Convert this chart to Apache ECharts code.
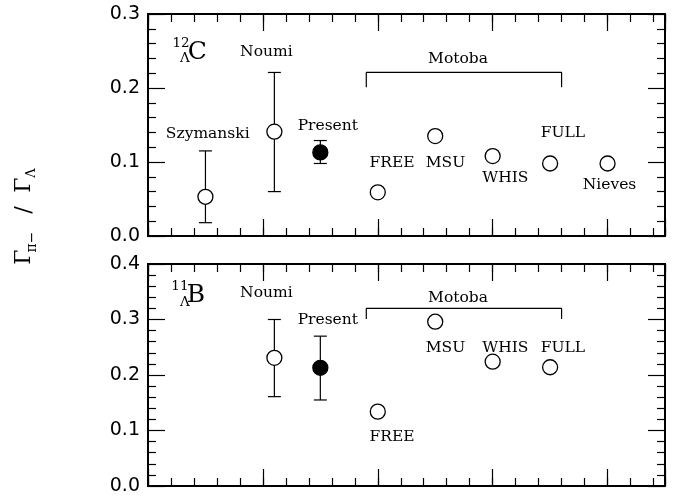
<!DOCTYPE html>
<html>
<head>
<meta charset="utf-8">
<script src="https://cdn.jsdelivr.net/npm/echarts@6/dist/echarts.min.js"></script>
<style>
  html, body { margin: 0; padding: 0; background: #fff; }
  #main { width: 674px; height: 497px; }
</style>
</head>
<body>
<div id="main"></div>
<script>
var myChart = echarts.init(document.getElementById('main'));

// 12C panel: [x, value]
var cOpen = [[0.5, 0.053], [1.1, 0.141], [2.0, 0.059], [2.5, 0.135], [3.0, 0.108], [3.5, 0.098], [4.0, 0.098]];
var cFilled = [[1.5, 0.113]];
// [x, low, high]
var cErr = [[0.5, 0.018, 0.115], [1.1, 0.060, 0.221], [1.5, 0.098, 0.129]];
var cBracket = [[1.9, 0.201], [1.9, 0.221], [3.6, 0.221], [3.6, 0.201]];

// 11B panel
var bOpen = [[1.1, 0.231], [2.0, 0.134], [2.5, 0.296], [3.0, 0.224], [3.5, 0.214]];
var bFilled = [[1.5, 0.213]];
var bErr = [[1.1, 0.161, 0.300], [1.5, 0.155, 0.270]];
var bBracket = [[1.9, 0.301], [1.9, 0.320], [3.6, 0.320], [3.6, 0.301]];

// annotations: [text, x, value]
var cNotes = [
  ['Szymanski', 0.52, 0.138], ['Noumi', 1.03, 0.249], ['Present', 1.565, 0.1486],
  ['FREE', 2.124, 0.0986], ['MSU', 2.589, 0.0986], ['WHIS', 3.11, 0.0788],
  ['FULL', 3.611, 0.1388], ['Nieves', 4.017, 0.0689], ['Motoba', 2.698, 0.2388]
];
var bNotes = [
  ['Noumi', 1.03, 0.3483], ['Present', 1.565, 0.2991], ['MSU', 2.589, 0.2481],
  ['WHIS', 3.11, 0.2481], ['FULL', 3.611, 0.2481], ['FREE', 2.124, 0.0888],
  ['Motoba', 2.698, 0.3382]
];
var cNucSmall = [['12', 0.287, 0.2595], ['Λ', 0.322, 0.2392]];
var cNucBig = [['C', 0.43, 0.2486]];
var bNucSmall = [['11', 0.278, 0.3586], ['Λ', 0.322, 0.3315]];
var bNucBig = [['B', 0.417, 0.3441]];

var yTicksC = { min: 0, max: 0.3, interval: 0.1 };
var yTicksB = { min: 0, max: 0.4, interval: 0.1 };

var serif = 'DejaVu Serif';

function xAx(grid, pos, step, len) {
  return {
    type: 'value', gridIndex: grid, position: pos, min: 0, max: 4.5, interval: step,
    axisLine: { show: true, onZero: false, lineStyle: { color: '#000', width: 2 } },
    axisTick: { show: true, inside: true, length: len, lineStyle: { color: '#000', width: 1.2 } },
    axisLabel: { show: false },
    splitLine: { show: false }
  };
}

function yAx(grid, pos, t) {
  return {
    type: 'value', gridIndex: grid, position: pos, min: t.min, max: t.max, interval: t.interval,
    axisLine: { show: true, onZero: false, lineStyle: { color: '#000', width: 2 } },
    axisTick: { show: true, inside: true, length: 17, lineStyle: { color: '#000', width: 1.2 } },
    minorTick: { show: true, splitNumber: 5, length: 8, lineStyle: { color: '#000', width: 1.2 } },
    axisLabel: {
      show: pos === 'left', margin: 8, color: '#000', fontSize: 19, fontFamily: 'DejaVu Sans',
      formatter: function (v) { return v.toFixed(1); }
    },
    splitLine: { show: false }
  };
}

function errItem(params, api) {
  var x = api.value(0);
  var lo = api.coord([x, api.value(1)]);
  var hi = api.coord([x, api.value(2)]);
  var st = { stroke: '#000', lineWidth: 1.2 };
  return {
    type: 'group',
    children: [
      { type: 'line', shape: { x1: lo[0], y1: lo[1], x2: hi[0], y2: hi[1] }, style: st },
      { type: 'line', shape: { x1: lo[0] - 6.5, y1: lo[1], x2: lo[0] + 6.5, y2: lo[1] }, style: st },
      { type: 'line', shape: { x1: hi[0] - 6.5, y1: hi[1], x2: hi[0] + 6.5, y2: hi[1] }, style: st }
    ]
  };
}

function panelSeries(xi, yi, open, filled, err, bracket, notes, small, big) {
  function textSeries(list, size) {
    return {
      type: 'scatter', xAxisIndex: xi, yAxisIndex: yi, symbolSize: 0, silent: true, z: 5,
      itemStyle: { opacity: 1 },
      data: list.map(function (n) { return { name: n[0], value: [n[1], n[2]] }; }),
      label: { show: true, position: 'inside', formatter: '{b}', color: '#000', opacity: 1, fontSize: size, fontFamily: serif }
    };
  }
  return [
    { type: 'custom', xAxisIndex: xi, yAxisIndex: yi, renderItem: errItem, encode: { x: 0, y: [1, 2] }, data: err, z: 2 },
    {
      type: 'line', xAxisIndex: xi, yAxisIndex: yi, data: bracket, symbol: 'none',
      lineStyle: { color: '#000', width: 1.2 }, z: 2
    },
    {
      type: 'scatter', xAxisIndex: xi, yAxisIndex: yi, data: open, symbol: 'circle', symbolSize: 15,
      itemStyle: { color: '#fff', borderColor: '#000', borderWidth: 1.3, opacity: 1 }, z: 3
    },
    {
      type: 'scatter', xAxisIndex: xi, yAxisIndex: yi, data: filled, symbol: 'circle', symbolSize: 15,
      itemStyle: { color: '#000', borderColor: '#000', borderWidth: 1.3, opacity: 1 }, z: 3
    },
    textSeries(notes, 15.5),
    textSeries(small, 13.5),
    textSeries(big, 25)
  ];
}

option = {
  animation: false,
  backgroundColor: '#fff',
  grid: [
    { left: 148, top: 14, width: 517, height: 222 },
    { left: 148, top: 264, width: 517, height: 222 }
  ],
  xAxis: [
    xAx(0, 'bottom', 1, 17), xAx(0, 'bottom', 0.2, 8), xAx(0, 'top', 1, 17), xAx(0, 'top', 0.2, 8),
    xAx(1, 'bottom', 1, 17), xAx(1, 'bottom', 0.2, 8), xAx(1, 'top', 1, 17), xAx(1, 'top', 0.2, 8)
  ],
  yAxis: [
    yAx(0, 'left', yTicksC), yAx(0, 'right', yTicksC),
    yAx(1, 'left', yTicksB), yAx(1, 'right', yTicksB)
  ],
  graphic: [{
    type: 'group', x: 24, y: 217, rotation: Math.PI / 2,
    children: [
      { type: 'text', x: -40, y: 0, style: { text: 'Γ', font: '22px ' + serif, fill: '#000', align: 'center', verticalAlign: 'middle' } },
      { type: 'text', x: -25, y: 8, style: { text: 'π−', font: '14px ' + serif, fill: '#000', align: 'center', verticalAlign: 'middle' } },
      { type: 'text', x: 7, y: 0, style: { text: '/', font: '22px ' + serif, fill: '#000', align: 'center', verticalAlign: 'middle' } },
      { type: 'text', x: 32, y: 0, style: { text: 'Γ', font: '22px ' + serif, fill: '#000', align: 'center', verticalAlign: 'middle' } },
      { type: 'text', x: 44, y: 8, style: { text: 'Λ', font: '13px ' + serif, fill: '#000', align: 'center', verticalAlign: 'middle' } }
    ]
  }],
  series: [].concat(
    panelSeries(0, 0, cOpen, cFilled, cErr, cBracket, cNotes, cNucSmall, cNucBig),
    panelSeries(4, 2, bOpen, bFilled, bErr, bBracket, bNotes, bNucSmall, bNucBig)
  )
};

myChart.setOption(option);
</script>
</body>
</html>
